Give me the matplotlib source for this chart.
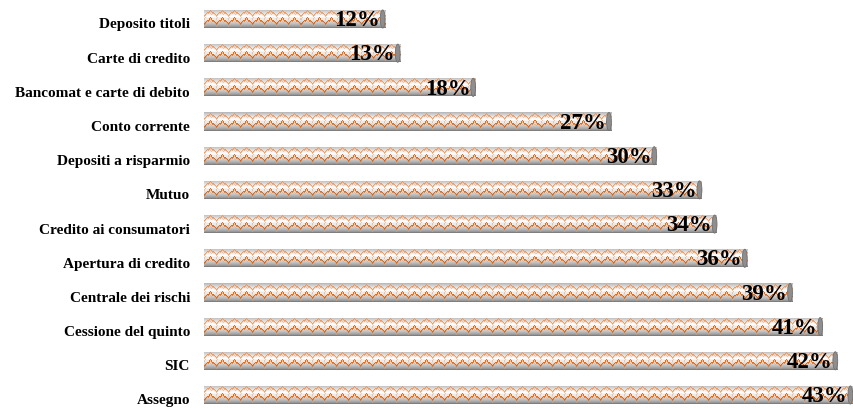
import matplotlib.pyplot as plt
import matplotlib.transforms as mtransforms
from matplotlib.patches import Ellipse
import numpy as np

categories = ['Deposito titoli', 'Carte di credito', 'Bancomat e carte di debito',
              'Conto corrente', 'Depositi a risparmio', 'Mutuo',
              'Credito ai consumatori', 'Apertura di credito', 'Centrale dei rischi',
              'Cessione del quinto', 'SIC', 'Assegno']
values = [12, 13, 18, 27, 30, 33, 34, 36, 39, 41, 42, 43]
labels = ['12%', '13%', '18%', '27%', '30%', '33%', '34%', '36%', '39%', '41%', '42%', '43%']

serif = ['Liberation Serif', 'DejaVu Serif']


def bar_texture(n_cols, n_rows=18):
    # grey cylinder shading, light band a bit above the middle
    r = np.linspace(0, 1, n_rows)
    shade = 0.5 + 0.5 * np.clip(1 - np.abs(r - 0.4) / 0.6, 0, 1) ** 0.7
    img = np.ones((n_rows, n_cols, 3)) * shade[:, None, None]
    strong = np.array([0.92, 0.42, 0.08])
    light = np.array([0.97, 0.62, 0.38])
    period = 12
    c = np.arange(n_cols)
    t = np.abs(((c % period) / period) * 2 - 1)
    zz = np.round(t * 5).astype(int)
    for base, col in [(1, light), (8, strong)]:
        rows = base + zz
        for ci in c:
            k = rows[ci]
            # 2-px blocks so the pattern survives resampling drift
            odd = (ci // 2) % 2
            for dk, a in [(0, 1.0), (1, 0.7 if odd == 0 else 0.3)]:
                kk = k + dk
                if 0 <= kk < n_rows:
                    img[kk, ci] = (1 - a) * img[kk, ci] + a * col * (0.8 + 0.2 * shade[kk])
            kk = k + 3
            if (ci // 2) % 3 == 0 and 0 <= kk < n_rows:
                img[kk, ci] = 0.45 * img[kk, ci] + 0.55 * light
    return img


fig = plt.figure(figsize=(8.54, 4.10), dpi=100)
ax = fig.add_axes([204 / 854, 0, 650 / 854, 1])
ax.set_xlim(0, 43.08)
ax.set_ylim(11.41, -0.585)
ax.axis('off')

ypos = np.arange(len(categories))
h = 0.53
bars = ax.barh(ypos, values, height=h, color='none', edgecolor='none')
px_per_unit = 650 / 43.08

for b, v, lab, cat, y in zip(bars, values, labels, categories, ypos):
    n_cols = int(np.ceil(v * px_per_unit)) + 1
    img = bar_texture(n_cols)
    im = ax.imshow(img, extent=(0, n_cols / px_per_unit, y + h / 2, y - h / 2),
                   aspect='auto', interpolation='nearest', zorder=2)
    im.set_clip_path(b)
    cap = Ellipse((v - 0.16, y), 0.32, h, facecolor='#8e8e8e', edgecolor='#707070',
                  lw=0.6, zorder=3)
    ax.add_patch(cap)
    ax.text(v - 0.35, y + 0.02, lab, ha='right', va='center', fontsize=16.5,
            fontweight='bold', family=serif, zorder=4)
    tr = ax.get_yaxis_transform() + mtransforms.ScaledTranslation(-14 / 100, -5 / 100, fig.dpi_scale_trans)
    ax.text(0, y, cat, transform=tr, ha='right', va='center', fontsize=11,
            fontweight='bold', family=serif)

ax.set_aspect('auto')
fig.savefig('out.png', dpi=100)
